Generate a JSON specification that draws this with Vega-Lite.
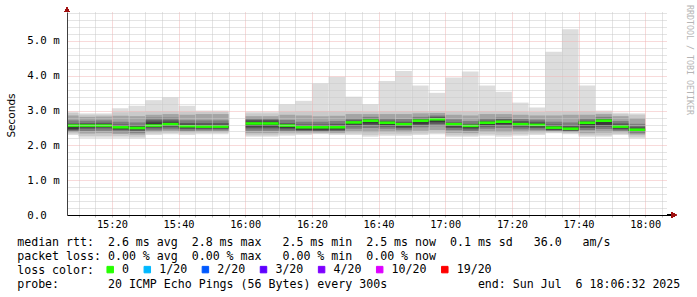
{
  "$schema": "https://vega.github.io/schema/vega-lite/v6.json",
  "autosize": "none",
  "padding": {"left": 67, "top": 12, "right": 30, "bottom": 82},
  "width": 600,
  "height": 203,
  "background": "white",
  "title": {"text": "RRDTOOL / TOBI OETIKER", "orient": "right", "anchor": "start", "frame": "group", "offset": 6, "dx": -7, "fontSize": 8.3, "font": "DejaVu Sans Mono", "fontWeight": "normal", "color": "#b5b5b5"},
  "config": {"view": {"stroke": null}},
  "data": {
    "values": [
      {"t0": "2025-07-06T15:06:32Z", "t1": "2025-07-06T15:10:00Z", "min": 2.30, "max": 2.97, "lo2": 2.34, "hi2": 2.93, "lo3": 2.38, "hi3": 2.86, "lo4": 2.40, "hi4": 2.72, "lo5": 2.44, "hi5": 2.63, "lo6": 2.47, "hi6": 2.56, "median": 2.57, "loss": "0"},
      {"t0": "2025-07-06T15:10:00Z", "t1": "2025-07-06T15:15:00Z", "min": 2.22, "max": 2.92, "lo2": 2.27, "hi2": 2.88, "lo3": 2.34, "hi3": 2.82, "lo4": 2.41, "hi4": 2.71, "lo5": 2.48, "hi5": 2.64, "lo6": 2.52, "hi6": 2.60, "median": 2.57, "loss": "0"},
      {"t0": "2025-07-06T15:15:00Z", "t1": "2025-07-06T15:20:00Z", "min": 2.22, "max": 2.92, "lo2": 2.27, "hi2": 2.88, "lo3": 2.35, "hi3": 2.83, "lo4": 2.42, "hi4": 2.72, "lo5": 2.49, "hi5": 2.65, "lo6": 2.53, "hi6": 2.60, "median": 2.57, "loss": "0"},
      {"t0": "2025-07-06T15:20:00Z", "t1": "2025-07-06T15:25:00Z", "min": 2.22, "max": 3.07, "lo2": 2.27, "hi2": 2.95, "lo3": 2.33, "hi3": 2.85, "lo4": 2.38, "hi4": 2.68, "lo5": 2.44, "hi5": 2.60, "lo6": 2.47, "hi6": 2.55, "median": 2.52, "loss": "0"},
      {"t0": "2025-07-06T15:25:00Z", "t1": "2025-07-06T15:30:00Z", "min": 2.20, "max": 3.14, "lo2": 2.25, "hi2": 2.97, "lo3": 2.31, "hi3": 2.84, "lo4": 2.36, "hi4": 2.66, "lo5": 2.42, "hi5": 2.58, "lo6": 2.46, "hi6": 2.54, "median": 2.50, "loss": "0"},
      {"t0": "2025-07-06T15:30:00Z", "t1": "2025-07-06T15:35:00Z", "min": 2.30, "max": 3.30, "lo2": 2.34, "hi2": 2.98, "lo3": 2.39, "hi3": 2.88, "lo4": 2.43, "hi4": 2.80, "lo5": 2.49, "hi5": 2.72, "lo6": 2.53, "hi6": 2.66, "median": 2.57, "loss": "0"},
      {"t0": "2025-07-06T15:35:00Z", "t1": "2025-07-06T15:40:00Z", "min": 2.32, "max": 3.38, "lo2": 2.36, "hi2": 2.98, "lo3": 2.41, "hi3": 2.90, "lo4": 2.46, "hi4": 2.80, "lo5": 2.52, "hi5": 2.72, "lo6": 2.56, "hi6": 2.66, "median": 2.61, "loss": "0"},
      {"t0": "2025-07-06T15:40:00Z", "t1": "2025-07-06T15:45:00Z", "min": 2.30, "max": 3.14, "lo2": 2.34, "hi2": 2.97, "lo3": 2.39, "hi3": 2.88, "lo4": 2.42, "hi4": 2.72, "lo5": 2.47, "hi5": 2.64, "lo6": 2.51, "hi6": 2.59, "median": 2.55, "loss": "0"},
      {"t0": "2025-07-06T15:45:00Z", "t1": "2025-07-06T15:50:00Z", "min": 2.32, "max": 3.00, "lo2": 2.36, "hi2": 2.96, "lo3": 2.40, "hi3": 2.90, "lo4": 2.43, "hi4": 2.72, "lo5": 2.47, "hi5": 2.64, "lo6": 2.50, "hi6": 2.58, "median": 2.54, "loss": "0"},
      {"t0": "2025-07-06T15:50:00Z", "t1": "2025-07-06T15:55:00Z", "min": 2.32, "max": 3.00, "lo2": 2.36, "hi2": 2.96, "lo3": 2.40, "hi3": 2.90, "lo4": 2.43, "hi4": 2.72, "lo5": 2.47, "hi5": 2.64, "lo6": 2.50, "hi6": 2.58, "median": 2.54, "loss": "0"},
      {"t0": "2025-07-06T16:00:00Z", "t1": "2025-07-06T16:05:00Z", "min": 2.25, "max": 2.97, "lo2": 2.29, "hi2": 2.92, "lo3": 2.35, "hi3": 2.84, "lo4": 2.42, "hi4": 2.78, "lo5": 2.49, "hi5": 2.73, "lo6": 2.54, "hi6": 2.68, "median": 2.63, "loss": "0"},
      {"t0": "2025-07-06T16:05:00Z", "t1": "2025-07-06T16:10:00Z", "min": 2.25, "max": 2.97, "lo2": 2.29, "hi2": 2.92, "lo3": 2.35, "hi3": 2.84, "lo4": 2.42, "hi4": 2.78, "lo5": 2.49, "hi5": 2.73, "lo6": 2.54, "hi6": 2.68, "median": 2.63, "loss": "0"},
      {"t0": "2025-07-06T16:10:00Z", "t1": "2025-07-06T16:15:00Z", "min": 2.28, "max": 3.18, "lo2": 2.32, "hi2": 2.97, "lo3": 2.37, "hi3": 2.88, "lo4": 2.41, "hi4": 2.73, "lo5": 2.46, "hi5": 2.64, "lo6": 2.50, "hi6": 2.58, "median": 2.57, "loss": "0"},
      {"t0": "2025-07-06T16:15:00Z", "t1": "2025-07-06T16:20:00Z", "min": 2.30, "max": 3.28, "lo2": 2.33, "hi2": 2.98, "lo3": 2.37, "hi3": 2.86, "lo4": 2.40, "hi4": 2.68, "lo5": 2.43, "hi5": 2.60, "lo6": 2.45, "hi6": 2.54, "median": 2.52, "loss": "0"},
      {"t0": "2025-07-06T16:20:00Z", "t1": "2025-07-06T16:25:00Z", "min": 2.32, "max": 3.78, "lo2": 2.34, "hi2": 2.98, "lo3": 2.37, "hi3": 2.84, "lo4": 2.39, "hi4": 2.68, "lo5": 2.42, "hi5": 2.60, "lo6": 2.45, "hi6": 2.55, "median": 2.52, "loss": "0"},
      {"t0": "2025-07-06T16:25:00Z", "t1": "2025-07-06T16:30:00Z", "min": 2.30, "max": 3.97, "lo2": 2.33, "hi2": 2.98, "lo3": 2.36, "hi3": 2.85, "lo4": 2.39, "hi4": 2.70, "lo5": 2.43, "hi5": 2.62, "lo6": 2.46, "hi6": 2.56, "median": 2.52, "loss": "0"},
      {"t0": "2025-07-06T16:30:00Z", "t1": "2025-07-06T16:35:00Z", "min": 2.30, "max": 3.40, "lo2": 2.34, "hi2": 2.98, "lo3": 2.40, "hi3": 2.90, "lo4": 2.48, "hi4": 2.78, "lo5": 2.55, "hi5": 2.72, "lo6": 2.60, "hi6": 2.68, "median": 2.66, "loss": "0"},
      {"t0": "2025-07-06T16:35:00Z", "t1": "2025-07-06T16:40:00Z", "min": 2.25, "max": 3.18, "lo2": 2.30, "hi2": 2.97, "lo3": 2.38, "hi3": 2.90, "lo4": 2.50, "hi4": 2.82, "lo5": 2.58, "hi5": 2.77, "lo6": 2.63, "hi6": 2.73, "median": 2.71, "loss": "0"},
      {"t0": "2025-07-06T16:40:00Z", "t1": "2025-07-06T16:45:00Z", "min": 2.28, "max": 3.85, "lo2": 2.32, "hi2": 2.98, "lo3": 2.39, "hi3": 2.90, "lo4": 2.48, "hi4": 2.78, "lo5": 2.54, "hi5": 2.71, "lo6": 2.58, "hi6": 2.66, "median": 2.65, "loss": "0"},
      {"t0": "2025-07-06T16:45:00Z", "t1": "2025-07-06T16:50:00Z", "min": 2.28, "max": 4.14, "lo2": 2.32, "hi2": 2.98, "lo3": 2.38, "hi3": 2.90, "lo4": 2.45, "hi4": 2.76, "lo5": 2.50, "hi5": 2.68, "lo6": 2.54, "hi6": 2.62, "median": 2.61, "loss": "0"},
      {"t0": "2025-07-06T16:50:00Z", "t1": "2025-07-06T16:55:00Z", "min": 2.30, "max": 3.72, "lo2": 2.34, "hi2": 2.98, "lo3": 2.42, "hi3": 2.92, "lo4": 2.52, "hi4": 2.82, "lo5": 2.58, "hi5": 2.77, "lo6": 2.62, "hi6": 2.72, "median": 2.71, "loss": "0"},
      {"t0": "2025-07-06T16:55:00Z", "t1": "2025-07-06T17:00:00Z", "min": 2.32, "max": 3.51, "lo2": 2.36, "hi2": 2.98, "lo3": 2.44, "hi3": 2.93, "lo4": 2.55, "hi4": 2.86, "lo5": 2.62, "hi5": 2.82, "lo6": 2.67, "hi6": 2.78, "median": 2.75, "loss": "0"},
      {"t0": "2025-07-06T17:00:00Z", "t1": "2025-07-06T17:05:00Z", "min": 2.25, "max": 3.95, "lo2": 2.29, "hi2": 2.98, "lo3": 2.36, "hi3": 2.88, "lo4": 2.44, "hi4": 2.75, "lo5": 2.50, "hi5": 2.66, "lo6": 2.54, "hi6": 2.62, "median": 2.61, "loss": "0"},
      {"t0": "2025-07-06T17:05:00Z", "t1": "2025-07-06T17:10:00Z", "min": 2.25, "max": 4.12, "lo2": 2.29, "hi2": 2.98, "lo3": 2.35, "hi3": 2.86, "lo4": 2.41, "hi4": 2.70, "lo5": 2.46, "hi5": 2.62, "lo6": 2.50, "hi6": 2.57, "median": 2.56, "loss": "0"},
      {"t0": "2025-07-06T17:10:00Z", "t1": "2025-07-06T17:15:00Z", "min": 2.28, "max": 3.72, "lo2": 2.32, "hi2": 2.98, "lo3": 2.39, "hi3": 2.90, "lo4": 2.48, "hi4": 2.78, "lo5": 2.54, "hi5": 2.71, "lo6": 2.58, "hi6": 2.66, "median": 2.65, "loss": "0"},
      {"t0": "2025-07-06T17:15:00Z", "t1": "2025-07-06T17:20:00Z", "min": 2.25, "max": 3.54, "lo2": 2.30, "hi2": 2.98, "lo3": 2.38, "hi3": 2.90, "lo4": 2.50, "hi4": 2.80, "lo5": 2.57, "hi5": 2.75, "lo6": 2.61, "hi6": 2.69, "median": 2.68, "loss": "0"},
      {"t0": "2025-07-06T17:20:00Z", "t1": "2025-07-06T17:25:00Z", "min": 2.28, "max": 3.23, "lo2": 2.32, "hi2": 2.97, "lo3": 2.39, "hi3": 2.88, "lo4": 2.46, "hi4": 2.76, "lo5": 2.52, "hi5": 2.70, "lo6": 2.56, "hi6": 2.65, "median": 2.61, "loss": "0"},
      {"t0": "2025-07-06T17:25:00Z", "t1": "2025-07-06T17:30:00Z", "min": 2.30, "max": 3.09, "lo2": 2.34, "hi2": 2.96, "lo3": 2.40, "hi3": 2.86, "lo4": 2.45, "hi4": 2.74, "lo5": 2.50, "hi5": 2.68, "lo6": 2.54, "hi6": 2.63, "median": 2.59, "loss": "0"},
      {"t0": "2025-07-06T17:30:00Z", "t1": "2025-07-06T17:35:00Z", "min": 2.35, "max": 4.69, "lo2": 2.37, "hi2": 2.98, "lo3": 2.40, "hi3": 2.86, "lo4": 2.42, "hi4": 2.68, "lo5": 2.44, "hi5": 2.60, "lo6": 2.46, "hi6": 2.55, "median": 2.51, "loss": "0"},
      {"t0": "2025-07-06T17:35:00Z", "t1": "2025-07-06T17:40:00Z", "min": 2.32, "max": 5.34, "lo2": 2.35, "hi2": 2.98, "lo3": 2.38, "hi3": 2.88, "lo4": 2.40, "hi4": 2.66, "lo5": 2.42, "hi5": 2.58, "lo6": 2.44, "hi6": 2.52, "median": 2.48, "loss": "0"},
      {"t0": "2025-07-06T17:40:00Z", "t1": "2025-07-06T17:45:00Z", "min": 2.25, "max": 3.72, "lo2": 2.29, "hi2": 2.98, "lo3": 2.35, "hi3": 2.88, "lo4": 2.44, "hi4": 2.78, "lo5": 2.50, "hi5": 2.71, "lo6": 2.55, "hi6": 2.66, "median": 2.65, "loss": "0"},
      {"t0": "2025-07-06T17:45:00Z", "t1": "2025-07-06T17:50:00Z", "min": 2.25, "max": 3.00, "lo2": 2.29, "hi2": 2.95, "lo3": 2.37, "hi3": 2.90, "lo4": 2.47, "hi4": 2.82, "lo5": 2.54, "hi5": 2.77, "lo6": 2.59, "hi6": 2.71, "median": 2.71, "loss": "0"},
      {"t0": "2025-07-06T17:50:00Z", "t1": "2025-07-06T17:55:00Z", "min": 2.30, "max": 2.94, "lo2": 2.33, "hi2": 2.90, "lo3": 2.38, "hi3": 2.84, "lo4": 2.42, "hi4": 2.70, "lo5": 2.46, "hi5": 2.63, "lo6": 2.49, "hi6": 2.58, "median": 2.54, "loss": "0"},
      {"t0": "2025-07-06T17:55:00Z", "t1": "2025-07-06T18:00:00Z", "min": 2.20, "max": 2.92, "lo2": 2.25, "hi2": 2.88, "lo3": 2.31, "hi3": 2.78, "lo4": 2.35, "hi4": 2.62, "lo5": 2.39, "hi5": 2.54, "lo6": 2.41, "hi6": 2.48, "median": 2.45, "loss": "0"}
    ]
  },
  "layer": [
    {
      "mark": {"type": "rect", "color": "#dddddd"},
      "encoding": {
        "x": {
          "field": "t0", "type": "temporal",
          "scale": {"type": "utc", "domain": [{"year": 2025, "month": 7, "date": 6, "hours": 15, "minutes": 6, "seconds": 32, "utc": true}, {"year": 2025, "month": 7, "date": 6, "hours": 18, "minutes": 6, "seconds": 32, "utc": true}]},
          "axis": {
            "zindex": 1,
            "tickCount": 36,
            "labelExpr": "utcminutes(datum.value) % 20 == 0 ? utcFormat(datum.value, '%H:%M') : ''",
            "labelOverlap": false,
            "labelFlush": false,
            "labelFont": "DejaVu Sans Mono",
            "labelFontSize": 10.3,
            "labelColor": "#000000",
            "labelBaseline": "middle",
            "labelPadding": 7.3,
            "tickSize": 2,
            "tickColor": "#bbbbbb",
            "domainColor": "#000000",
            "grid": true,
            "gridDash": [1, 1],
            "gridColor": {"condition": {"test": "utcminutes(datum.value) % 20 == 0", "value": "#f0b4b4"}, "value": "#c8c8c8"},
            "title": [
              "median rtt:\u00a0\u00a02.6 ms avg\u00a0\u00a02.8 ms max\u00a0\u00a0\u00a02.5 ms min\u00a0\u00a02.5 ms now\u00a0\u00a00.1 ms sd\u00a0\u00a0\u00a036.0\u00a0\u00a0\u00a0am/s",
              "packet loss: 0.00 % avg\u00a0\u00a00.00 % max\u00a0\u00a0\u00a00.00 % min\u00a0\u00a00.00 % now",
              "loss color:",
              "probe:\u00a0\u00a0\u00a0\u00a0\u00a0\u00a0\u00a020 ICMP Echo Pings (56 Bytes) every 300s\u00a0\u00a0\u00a0\u00a0\u00a0\u00a0\u00a0\u00a0\u00a0\u00a0\u00a0\u00a0\u00a0end: Sun Jul\u00a0\u00a06 18:06:32 2025"
            ],
            "titleFont": "DejaVu Sans Mono",
            "titleFontSize": 11.6,
            "titleFontWeight": "normal",
            "titleColor": "#000000",
            "titleAlign": "left",
            "titleBaseline": "alphabetic",
            "titleLineHeight": 13.85,
            "titleX": -50.3,
            "titleY": 30.5
          }
        },
        "x2": {"field": "t1"},
        "y": {
          "field": "min", "type": "quantitative",
          "scale": {"domain": [0, 5.833], "nice": false, "zero": false},
          "axis": {
            "zindex": 1,
            "tickCount": 60,
            "values": [0, 0.2, 0.4, 0.6, 0.8, 1, 1.2, 1.4, 1.6, 1.8, 2, 2.2, 2.4, 2.6, 2.8, 3, 3.2, 3.4, 3.6, 3.8, 4, 4.2, 4.4, 4.6, 4.8, 5, 5.2, 5.4, 5.6, 5.8],
            "labelExpr": "datum.value == 0 ? '0.0' : (abs(datum.value - round(datum.value)) < 0.001 ? format(datum.value, '.1f') + ' m' : '')",
            "labelOverlap": false,
            "labelFlush": false,
            "labelFont": "DejaVu Sans Mono",
            "labelFontSize": 10.8,
            "labelColor": "#000000",
            "labelAlign": "left",
            "labelBaseline": "middle",
            "labelPadding": 40.3,
            "ticks": false,
            "domainColor": "#404040",
            "grid": true,
            "gridDash": [1, 1],
            "gridColor": {"condition": {"test": "abs(datum.value - round(datum.value)) < 0.001", "value": "#f0b4b4"}, "value": "#c8c8c8"},
            "title": "Seconds",
            "titleFont": "DejaVu Sans",
            "titleFontSize": 10.5,
            "titleFontWeight": "normal",
            "titleColor": "#000000",
            "titleAngle": -90,
            "titleAlign": "center",
            "titleBaseline": "middle",
            "titleX": -56,
            "titleY": 103
          }
        },
        "y2": {"field": "max"}
      }
    },
    {"mark": {"type": "rect", "color": "#cacaca"}, "encoding": {"x": {"field": "t0", "type": "temporal"}, "x2": {"field": "t1"}, "y": {"field": "lo2", "type": "quantitative"}, "y2": {"field": "hi2"}}},
    {"mark": {"type": "rect", "color": "#a4a4a4"}, "encoding": {"x": {"field": "t0", "type": "temporal"}, "x2": {"field": "t1"}, "y": {"field": "lo3", "type": "quantitative"}, "y2": {"field": "hi3"}}},
    {"mark": {"type": "rect", "color": "#7e7e7e"}, "encoding": {"x": {"field": "t0", "type": "temporal"}, "x2": {"field": "t1"}, "y": {"field": "lo4", "type": "quantitative"}, "y2": {"field": "hi4"}}},
    {"mark": {"type": "rect", "color": "#585858"}, "encoding": {"x": {"field": "t0", "type": "temporal"}, "x2": {"field": "t1"}, "y": {"field": "lo5", "type": "quantitative"}, "y2": {"field": "hi5"}}},
    {"mark": {"type": "rect", "color": "#3a3a3a"}, "encoding": {"x": {"field": "t0", "type": "temporal"}, "x2": {"field": "t1"}, "y": {"field": "lo6", "type": "quantitative"}, "y2": {"field": "hi6"}}},
    {
      "mark": {"type": "rule", "strokeWidth": 2.6},
      "encoding": {
        "x": {"field": "t0", "type": "temporal"},
        "x2": {"field": "t1"},
        "y": {"field": "median", "type": "quantitative"},
        "color": {
          "field": "loss", "type": "nominal",
          "scale": {"domain": ["0", "1/20", "2/20", "3/20", "4/20", "10/20", "19/20"], "range": ["#26ff00", "#00b8ff", "#0059ff", "#5e00ff", "#7e00ff", "#dd00ff", "#ff0000"]},
          "legend": {
            "orient": "none",
            "legendX": 37.4,
            "legendY": 251.5,
            "direction": "horizontal",
            "title": null,
            "symbolType": "square",
            "symbolSize": 42,
            "symbolStrokeWidth": 1,
            "labelFont": "DejaVu Sans Mono",
            "labelFontSize": 11.6,
            "labelColor": "#000000",
            "labelOffset": 6.1,
            "columnPadding": 12.1,
            "encode": {"symbols": {"update": {"fill": {"scale": "color", "field": "value"}, "stroke": {"value": "#000000"}, "fillOpacity": {"value": 1}, "strokeOpacity": {"value": 1}}}}
          }
        }
      }
    },
    {
      "mark": {"type": "rule", "color": "#000000", "strokeWidth": 1},
      "encoding": {
        "x": {"datum": {"year": 2025, "month": 7, "date": 6, "hours": 18, "minutes": 6, "seconds": 32, "utc": true}, "type": "temporal"},
        "x2": {"datum": {"year": 2025, "month": 7, "date": 6, "hours": 18, "minutes": 8, "seconds": 40, "utc": true}},
        "y": {"datum": 0, "type": "quantitative"}
      }
    },
    {
      "mark": {"type": "point", "shape": "triangle-right", "filled": true, "color": "#a01010", "size": 28, "opacity": 1},
      "encoding": {
        "x": {"datum": {"year": 2025, "month": 7, "date": 6, "hours": 18, "minutes": 8, "seconds": 40, "utc": true}, "type": "temporal"},
        "y": {"datum": 0, "type": "quantitative"}
      }
    },
    {
      "mark": {"type": "rule", "color": "#404040", "strokeWidth": 1},
      "encoding": {
        "x": {"datum": {"year": 2025, "month": 7, "date": 6, "hours": 15, "minutes": 6, "seconds": 32, "utc": true}, "type": "temporal"},
        "y": {"datum": 5.833, "type": "quantitative"},
        "y2": {"datum": 5.9}
      }
    },
    {
      "mark": {"type": "point", "shape": "triangle-up", "filled": true, "color": "#a01010", "size": 28, "opacity": 1},
      "encoding": {
        "x": {"datum": {"year": 2025, "month": 7, "date": 6, "hours": 15, "minutes": 6, "seconds": 32, "utc": true}, "type": "temporal"},
        "y": {"datum": 5.9, "type": "quantitative"}
      }
    }
  ]
}
